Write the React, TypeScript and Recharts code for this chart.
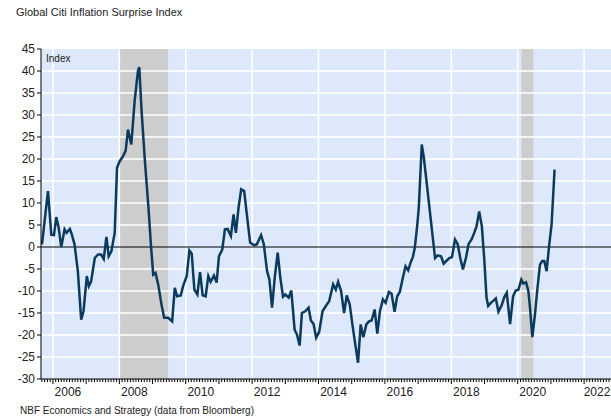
import {
  LineChart,
  Line,
  XAxis,
  YAxis,
  CartesianGrid,
  ReferenceLine,
  ReferenceArea,
} from "recharts";

// month-ish dates (decimal years) and index readings
const dates = [
  2005.67, 2005.85, 2005.95, 2006.03, 2006.1, 2006.17, 2006.25, 2006.35, 2006.41, 2006.51,
  2006.57, 2006.65, 2006.75, 2006.85, 2006.92, 2007.02, 2007.08, 2007.15, 2007.26, 2007.36,
  2007.45, 2007.53, 2007.61, 2007.68, 2007.76, 2007.86, 2007.93, 2008.01, 2008.11, 2008.19,
  2008.26, 2008.36, 2008.46, 2008.56, 2008.6, 2008.67, 2008.77, 2008.87, 2008.95, 2009.02,
  2009.09, 2009.17, 2009.27, 2009.35, 2009.47, 2009.59, 2009.67, 2009.74, 2009.85, 2009.92,
  2010.03, 2010.11, 2010.18, 2010.26, 2010.35, 2010.43, 2010.51, 2010.6, 2010.68, 2010.75,
  2010.85, 2010.93, 2011.0, 2011.1, 2011.18, 2011.26, 2011.36, 2011.44, 2011.51, 2011.59,
  2011.67, 2011.76, 2011.84, 2011.94, 2012.05, 2012.14, 2012.27, 2012.35, 2012.45, 2012.52,
  2012.6, 2012.68, 2012.77, 2012.85, 2012.93, 2013.0, 2013.1, 2013.18, 2013.28, 2013.35,
  2013.43, 2013.5, 2013.6, 2013.7, 2013.77, 2013.85, 2013.93, 2014.02, 2014.12, 2014.22,
  2014.32, 2014.44, 2014.52, 2014.59, 2014.68, 2014.77, 2014.85, 2014.94, 2015.02, 2015.1,
  2015.19, 2015.27, 2015.35, 2015.44, 2015.52, 2015.6, 2015.69, 2015.77, 2015.85, 2015.94,
  2016.02, 2016.12, 2016.2, 2016.29, 2016.37, 2016.45, 2016.54, 2016.62, 2016.7, 2016.77,
  2016.84, 2016.9, 2016.97, 2017.02, 2017.11, 2017.17, 2017.33, 2017.42, 2017.51, 2017.59,
  2017.69, 2017.77, 2017.86, 2017.94, 2018.02, 2018.11, 2018.19, 2018.27, 2018.35, 2018.44,
  2018.52, 2018.61, 2018.69, 2018.76, 2018.84, 2018.92, 2018.99, 2019.06, 2019.11, 2019.19,
  2019.27, 2019.34, 2019.42, 2019.52, 2019.59, 2019.67, 2019.77, 2019.86, 2019.94, 2020.02,
  2020.11, 2020.17, 2020.25, 2020.32, 2020.37, 2020.44, 2020.52, 2020.59, 2020.67, 2020.74,
  2020.8, 2020.87, 2020.95, 2021.02, 2021.11,
];

const values = [
  0.6, 12.7, 2.8, 2.7, 6.8, 4.5, 0.0, 4.0, 3.2, 4.1,
  2.8, 0.6, -5.5, -16.5, -14.6, -6.6, -8.9, -7.8, -2.5, -1.7,
  -1.7, -2.7, 2.3, -2.1, -1.0, 3.2, 18.0, 19.5, 20.6, 21.9,
  26.7, 23.3, 33.1, 40.0, 40.9, 30.9, 19.5, 9.7, 0.6, -6.3,
  -5.9, -8.5, -13.1, -16.1, -16.1, -16.9, -9.3, -11.2, -11.0, -8.9,
  -6.6, -0.8, -1.5, -9.7, -10.8, -5.7, -11.0, -11.2, -6.6, -7.9,
  -6.5, -8.1, -2.1, -0.6, 4.0, 4.1, 2.5, 7.4, 3.2, 8.9,
  13.1, 12.7, 7.4, 1.0, 0.4, 0.6, 2.7, 0.7, -5.5, -7.4,
  -13.8, -7.0, -1.3, -7.0, -11.3, -10.8, -11.5, -9.9, -18.8, -19.9,
  -22.4, -15.0, -14.6, -13.8, -16.7, -17.5, -20.6, -19.3, -14.6, -13.4,
  -12.3, -8.5, -9.7, -7.9, -10.0, -15.0, -11.0, -13.1, -17.6, -21.8,
  -26.3, -17.6, -20.5, -17.6, -16.9, -16.7, -14.2, -19.7, -14.6, -11.9,
  -12.7, -10.2, -10.6, -14.7, -11.2, -10.2, -7.0, -4.4, -5.3, -3.6,
  -2.3, -0.2, 4.7, 8.9, 23.3, 20.5, 9.7, 3.6, -2.5, -1.9,
  -2.1, -3.8, -3.1, -2.5, -2.3, 1.7, 0.7, -2.5, -5.1, -2.5,
  0.7, 1.7, 3.2, 4.7, 8.1, 4.7, -2.5, -11.5, -13.4, -12.7,
  -12.2, -11.7, -14.7, -13.2, -11.5, -10.4, -17.5, -11.2, -9.9, -9.7,
  -7.4, -8.3, -8.0, -10.0, -13.8, -20.5, -15.3, -9.7, -4.0, -3.2,
  -3.2, -5.5, 0.6, 5.1, 17.6,
];

const yTicks = [-30, -25, -20, -15, -10, -5, 0, 5, 10, 15, 20, 25, 30, 35, 40, 45];
const labelYears = [2006, 2008, 2010, 2012, 2014, 2016, 2018, 2020, 2022];
const recessionStart = [2008.0, 2020.11];
const recessionEnd = [2009.47, 2020.47];

const X_MIN = 2005.64;
const X_MAX = 2022.81;

const data = dates.map((d, i) => ({ date: d, value: values[i] }));

const monthTicks: number[] = [];
for (let m = Math.ceil(X_MIN * 12); m <= Math.floor(X_MAX * 12); m++) {
  monthTicks.push(m / 12);
}

const font = "'Liberation Sans', Arial, sans-serif";

const MonthTick = ({ x, y, payload }: any) => {
  const m = Math.round(payload.value * 12);
  const month = ((m % 12) + 12) % 12;
  const year = Math.floor(m / 12);
  const isYear = month === 0;
  const showLabel = isYear && labelYears.includes(year);
  // keep the last label inside the page
  const lx = Math.min(x + 15, 597);
  return (
    <g>
      <line x1={x} x2={x} y1={y} y2={y + (isYear ? 5 : 3)} stroke="#000" strokeWidth={1} />
      {showLabel && (
        <text x={lx} y={y + 17} textAnchor="middle" fontSize={12} fill="#222" fontFamily={font}>
          {year}
        </text>
      )}
    </g>
  );
};

export default function App() {
  return (
    <div style={{ position: "absolute", left: 0, top: 0, width: 611, height: 419, background: "#fff" }}>
      <LineChart
        width={611}
        height={419}
        data={data}
        margin={{ top: 49, right: 0, left: 0, bottom: 9 }}
      >
        <CartesianGrid fill="#dde9fb" fillOpacity={1} stroke="none" horizontal={false} vertical={false} />
        {recessionStart.map((s, i) => (
          <ReferenceArea
            key={"r" + i}
            x1={s}
            x2={recessionEnd[i]}
            y1={-30}
            y2={45}
            fill="#cdcdcd"
            fillOpacity={1}
            stroke="none"
          />
        ))}
        {yTicks
          .filter((v) => v !== 0 && v !== -30 && v !== 45)
          .map((v) => (
            <ReferenceLine key={"h" + v} y={v} stroke="#fff" strokeWidth={1.5} />
          ))}
        {labelYears.map((yr) => (
          <ReferenceLine key={"v" + yr} x={yr} stroke="#fff" strokeWidth={1.5} />
        ))}
        <ReferenceLine y={0} stroke="#000" strokeWidth={1} />
        <XAxis
          type="number"
          dataKey="date"
          domain={[X_MIN, X_MAX]}
          ticks={monthTicks}
          interval={0}
          allowDataOverflow
          height={31}
          tickSize={0}
          tickMargin={0}
          tickLine={false}
          tick={<MonthTick />}
          axisLine={{ stroke: "#000", strokeWidth: 1 }}
        />
        <YAxis
          type="number"
          domain={[-30, 45]}
          ticks={yTicks}
          interval={0}
          width={41}
          tickSize={4}
          tickMargin={2}
          axisLine={{ stroke: "#000", strokeWidth: 1 }}
          tickLine={{ stroke: "#000" }}
          tick={{ fontSize: 12, fill: "#222", fontFamily: font }}
        />
        <Line
          type="linear"
          dataKey="value"
          stroke="#0b3a5c"
          strokeWidth={2.5}
          dot={false}
          isAnimationActive={false}
        />
      </LineChart>
      <div
        style={{
          position: "absolute",
          left: 16,
          top: 6,
          fontFamily: font,
          fontSize: 11,
          lineHeight: "12px",
          color: "#222",
        }}
      >
        Global Citi Inflation Surprise Index
      </div>
      <div
        style={{
          position: "absolute",
          left: 46,
          top: 53,
          fontFamily: font,
          fontSize: 10,
          lineHeight: "12px",
          color: "#222",
        }}
      >
        Index
      </div>
      <div
        style={{
          position: "absolute",
          left: 20,
          top: 405,
          fontFamily: font,
          fontSize: 10,
          lineHeight: "12px",
          color: "#222",
        }}
      >
        NBF Economics and Strategy (data from Bloomberg)
      </div>
    </div>
  );
}
